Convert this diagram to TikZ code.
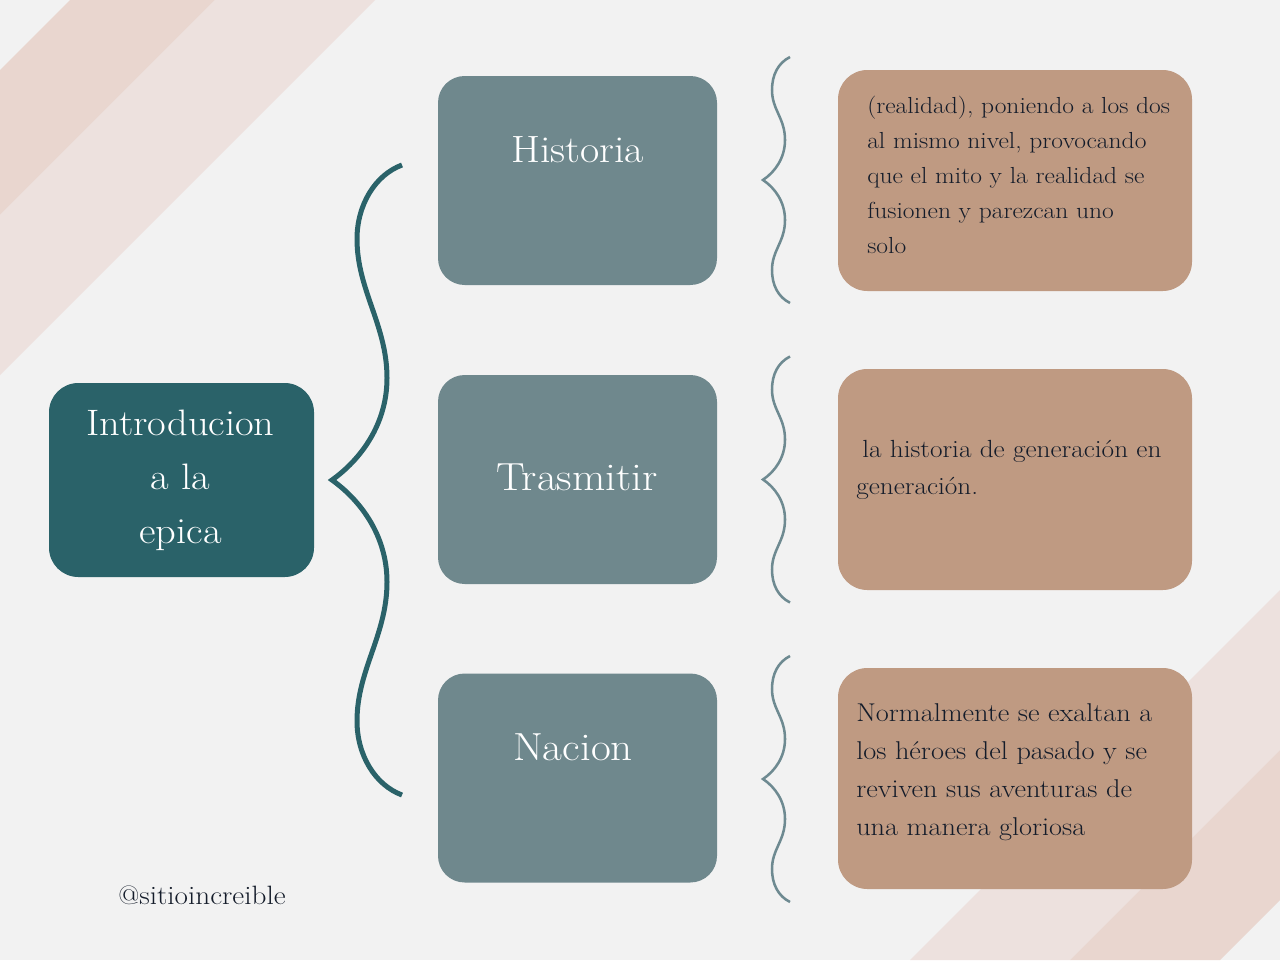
\documentclass[tikz,border=0pt]{standalone}
\usepackage{fontspec}
\setmainfont{Latin Modern Roman}[FakeStretch=1.1]
\definecolor{bgc}{HTML}{F2F2F2}
\definecolor{stripedark}{HTML}{E9D6CF}
\definecolor{stripelight}{HTML}{EDE1DE}
\definecolor{tealc}{HTML}{2A6269}
\definecolor{greyc}{HTML}{6F888D}
\definecolor{bracec}{HTML}{6E8A91}
\definecolor{brownc}{HTML}{BF9A82}
\definecolor{inkc}{HTML}{141C2A}
\tikzset{
  introbox/.style={rectangle, rounded corners=22pt, fill=tealc, inner sep=0pt,
    minimum width=198.75pt, minimum height=145.5pt},
  greybox/.style={rectangle, rounded corners=20pt, fill=greyc, inner sep=0pt,
    minimum width=209.25pt, minimum height=156.75pt},
  brownbox/.style={rectangle, rounded corners=22pt, fill=brownc, inner sep=0pt,
    minimum width=265.5pt, minimum height=165.75pt},
  titletext/.style={inner sep=0pt, anchor=base, text=white,
    font=\fontsize{29.4}{40}\selectfont},
  bodytext/.style={inner sep=0pt, anchor=base west, text=inkc},
  bigbrace/.style={draw=tealc, line width=3.75pt},
  smallbrace/.style={draw=bracec, line width=1.9pt}
}
\begin{document}
\begin{tikzpicture}[x=0.75pt,y=-0.75pt]
\fill[bgc] (0,0) rectangle (1280,960);
\useasboundingbox (0,0) rectangle (1280,960);
% stripes
\fill[stripedark] (70,0) -- (215,0) -- (0,215) -- (0,70) -- cycle;
\fill[stripelight] (215,0) -- (375,0) -- (0,375) -- (0,215) -- cycle;
\fill[stripelight] (1280,590) -- (1280,750) -- (1070,960) -- (910,960) -- cycle;
\fill[stripedark] (1280,750) -- (1280,900) -- (1220,960) -- (1070,960) -- cycle;

% boxes
\node[introbox] (intro) at (181.5,480) {};
\node[greybox] (hist) at (577.5,180.5) {};
\node[greybox] (tras) at (577.5,479.5) {};
\node[greybox] (naci) at (577.5,778) {};
\node[brownbox] (b1) at (1015,180.5) {};
\node[brownbox] (b2) at (1015,479.5) {};
\node[brownbox] (b3) at (1015,778.5) {};

% titles
\node[titletext, font=\fontsize{27.6}{40.5}\selectfont] (introtxt) at (180.5,435)
  {\begin{tabular}[t]{@{}c@{}}Introducion\\a la\\epica\end{tabular}};
\node[titletext, font=\fontsize{28.5}{40}\selectfont] (histtxt) at (577.5,162) {Historia};
\node[titletext] (trastxt) at (577,490) {Trasmitir};
\node[titletext] (nacitxt) at (573,760) {Nacion};

% body texts
\node[bodytext, font=\fontsize{17.4}{26.25}\selectfont] (t1) at (867,113)
  {\begin{tabular}[t]{@{}l@{}}(realidad), poniendo a los dos\\al mismo nivel, provocando\\que el mito y la realidad se\\fusionen y parezcan uno\\solo\end{tabular}};
\node[bodytext, font=\fontsize{18.6}{27.75}\selectfont] (t2) at (856,457)
  {\begin{tabular}[t]{@{}l@{}}\kern4.5pt la historia de generación en\\generación.\end{tabular}};
\node[bodytext, font=\fontsize{19.3}{28.5}\selectfont] (t3) at (856,721)
  {\begin{tabular}[t]{@{}l@{}}Normalmente se exaltan a\\los héroes del pasado y se\\reviven sus aventuras de\\una manera gloriosa\end{tabular}};
\node[bodytext, font=\fontsize{19.9}{24}\selectfont] (credit) at (118,904) {@sitioincreible};

% big brace
\draw[bigbrace] (402,165) .. controls (375,175) and (357,205) .. (357,239)
  .. controls (357,290) and (387,325) .. (387,378)
  .. controls (387,425) and (360,460) .. (332,480)
  .. controls (360,500) and (387,535) .. (387,582)
  .. controls (387,635) and (357,670) .. (357,721)
  .. controls (357,755) and (375,785) .. (402,795);

% small braces
\foreach \c in {180,479.5,779}{
  \draw[smallbrace] (790,\c-123) .. controls (778,\c-117) and (772,\c-105) .. (772,\c-90)
    .. controls (772,\c-70) and (785,\c-62) .. (785,\c-40)
    .. controls (785,\c-22) and (775,\c-8) .. (763,\c)
    .. controls (775,\c+8) and (785,\c+22) .. (785,\c+40)
    .. controls (785,\c+62) and (772,\c+70) .. (772,\c+90)
    .. controls (772,\c+105) and (778,\c+117) .. (790,\c+123);
}
\end{tikzpicture}
\end{document}
